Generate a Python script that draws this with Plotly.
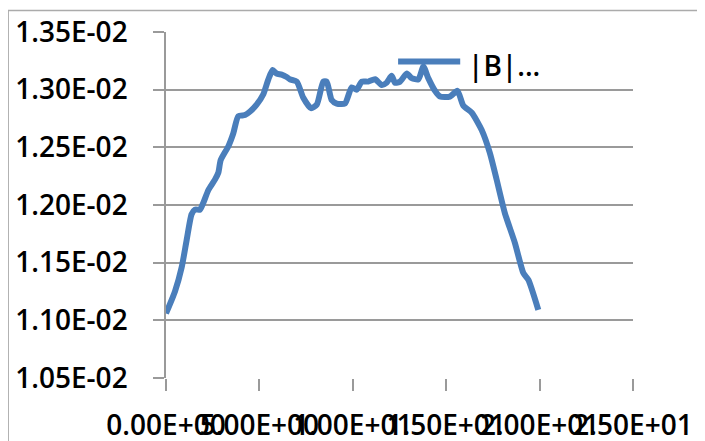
import plotly.graph_objects as go

# ---- data ----
series_name = "|B|..."
x_vals = [0.0, 0.48, 0.84, 1.11, 1.37, 1.55, 1.82, 2.0, 2.27, 2.62, 2.8, 2.93,
          3.34, 3.6, 3.87, 4.23, 4.5, 4.85, 5.21, 5.48, 5.71, 5.92, 6.19, 6.46,
          6.63, 7.0, 7.35, 7.76, 8.07, 8.42, 8.6, 8.87, 9.14, 9.58, 9.94, 10.21,
          10.48, 10.83, 11.19, 11.55, 11.81, 12.08, 12.26, 12.53, 12.89, 13.15,
          13.51, 13.78, 14.04, 14.4, 14.67, 15.2, 15.6, 15.92, 16.37, 16.9,
          17.34, 17.7, 18.14, 18.68, 19.13, 19.4, 19.93]
b_vals = [0.01106, 0.01125, 0.01146, 0.01170, 0.01192, 0.01196, 0.01196, 0.01202,
          0.01213, 0.01222, 0.01228, 0.01239, 0.01251, 0.01262, 0.01277, 0.01278,
          0.01281, 0.01287, 0.01296, 0.01309, 0.01317, 0.01314, 0.01313, 0.01311,
          0.01309, 0.01307, 0.01293, 0.01284, 0.01287, 0.01307, 0.01307, 0.01291,
          0.01288, 0.01288, 0.01302, 0.01300, 0.01307, 0.01307, 0.01309, 0.01304,
          0.01306, 0.01312, 0.01306, 0.01307, 0.01314, 0.01310, 0.01309, 0.01320,
          0.01310, 0.01299, 0.01294, 0.01294, 0.01299, 0.01286, 0.01280, 0.01265,
          0.01245, 0.01222, 0.01193, 0.01167, 0.01141, 0.01135, 0.01109]

x_tick_vals = [0, 5, 10, 15, 20, 25]
x_tick_text = ["0.00E+00", "5.00E+00", "1.00E+01", "1.50E+01", "2.00E+01", "2.50E+01"]
y_tick_vals = [0.0105, 0.0110, 0.0115, 0.0120, 0.0125, 0.0130, 0.0135]
y_tick_text = ["1.05E-02", "1.10E-02", "1.15E-02", "1.20E-02", "1.25E-02", "1.30E-02", "1.35E-02"]

# ---- styles ----
LINE_COLOR = "#4A7EBB"
GRID_COLOR = "#9A9A9A"
FONT = dict(family="Open Sans, Noto Sans, sans-serif", size=28, color="#000000", weight=600)

fig = go.Figure()
fig.add_trace(go.Scatter(
    x=x_vals, y=b_vals, mode="lines", name=series_name,
    line=dict(color=LINE_COLOR, width=6, shape="spline", smoothing=0.6),
    showlegend=False,
))

fig.update_layout(
    width=705, height=441,
    margin=dict(l=158, r=80, t=24, b=71, autoexpand=False),
    paper_bgcolor="white", plot_bgcolor="white",
    font=FONT,
    xaxis=dict(
        range=[0, 25], tickmode="array", tickvals=x_tick_vals, ticktext=x_tick_text,
        showgrid=False, zeroline=False, showline=False, automargin=False,
        ticks="outside", ticklen=12, tickcolor=GRID_COLOR, tickwidth=1.5,
        ticklabelstandoff=10, tickangle=0,
    ),
    yaxis=dict(
        range=[0.0105, 0.0135], tickmode="array", tickvals=y_tick_vals, ticktext=y_tick_text,
        showgrid=True, gridcolor=GRID_COLOR, gridwidth=1.5, zeroline=False, automargin=False,
        showline=True, linecolor=GRID_COLOR, linewidth=1.5,
        ticks="outside", ticklen=11, tickcolor=GRID_COLOR, tickwidth=1.5,
        ticklabelstandoff=20,
    ),
)

# chart-area border (top and left edges visible)
fig.add_shape(type="rect", xref="paper", yref="paper",
              x0=-0.338, x1=1.3, y0=-0.3, y1=1.062,
              line=dict(color="#ABABAB", width=1.5), fillcolor="rgba(0,0,0,0)", layer="below")

# legend (sample line + label)
fig.add_shape(type="line", xref="paper", yref="paper",
              x0=0.497, x1=0.630, y0=0.915, y1=0.915,
              line=dict(color=LINE_COLOR, width=6))
fig.add_annotation(text=series_name, xref="paper", yref="paper",
                   x=0.642, y=0.906, xanchor="left", yanchor="middle",
                   showarrow=False, font=FONT)

fig.write_html("out.html")
